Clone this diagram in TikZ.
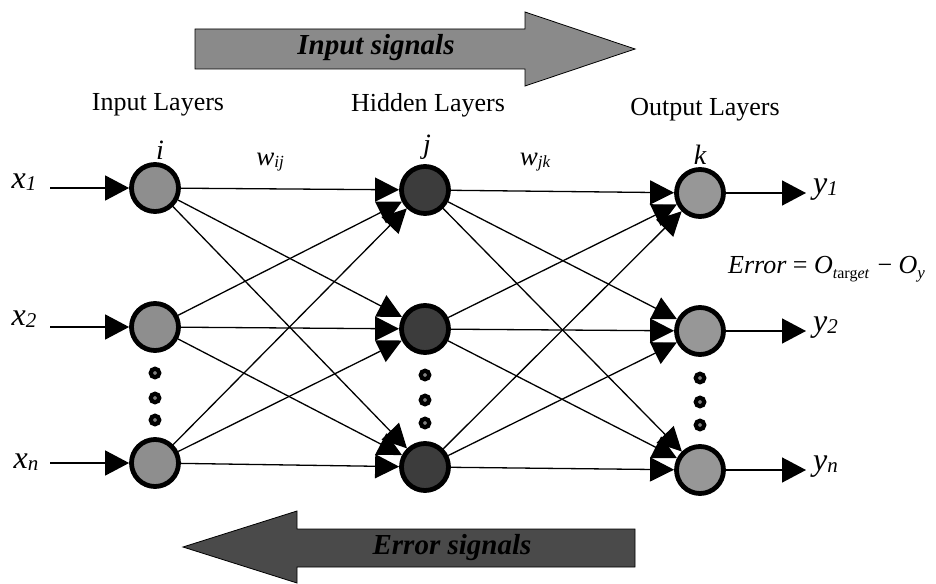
\documentclass[tikz,border=0pt]{standalone}
\usepackage{fontspec}
\setmainfont{Liberation Serif}
\usetikzlibrary{arrows.meta}
\definecolor{inputgray}{HTML}{8E8E8E}
\definecolor{hiddengray}{HTML}{3C3C3C}
\definecolor{outputgray}{HTML}{979797}
\definecolor{forwardgray}{HTML}{8A8A8A}
\definecolor{backgray}{HTML}{4A4A4A}
\newcommand{\fsz}[1]{\fontsize{#1}{#1}\selectfont}
\begin{document}
\begin{tikzpicture}[x=1pt,y=-1pt,
  neuron/.style={circle,draw=black,line width=4.8pt,minimum size=47pt,inner sep=0pt,outer sep=2.4pt},
  innode/.style={neuron,fill=inputgray},
  hidnode/.style={neuron,fill=hiddengray},
  outnode/.style={neuron,fill=outputgray},
  dotmark/.style={circle,draw=black,line width=4.2pt,fill=gray,minimum size=8.5pt,inner sep=0pt},
  link/.style={line width=1.3pt,-{Triangle[length=24pt,width=24pt]}},
  feed/.style={line width=1.5pt,-{Triangle[length=24pt,width=25pt]}},
  label/.style={font=\fsz{26},inner sep=0pt},
  idx/.style={font=\fsz{28}\itshape,inner sep=0pt},
  bigarrow/.style={draw=black,line width=0.8pt},
  arrowtext/.style={font=\fsz{29}\bfseries\itshape,inner sep=0pt}
]
\useasboundingbox (0,0) rectangle (936,583);

% signal flow arrows
\filldraw[bigarrow,fill=forwardgray] (195,29) -- (525,29) -- (525,12) -- (635,49) -- (525,86) -- (525,69) -- (195,69) -- cycle;
\node[arrowtext] (fwdtext) at (376,48) {Input signals};
\filldraw[bigarrow,fill=backgray] (635,529) -- (297,529) -- (297,511) -- (183,547) -- (297,583) -- (297,567) -- (635,567) -- cycle;
\node[arrowtext] (backtext) at (452,548) {Error signals};

% layer titles
\node[label] (tin) at (158,105) {Input Layers};
\node[label] (thid) at (428,105) {Hidden Layers};
\node[label] (tout) at (705,110) {Output Layers};

% neurons
\node[innode] (in1) at (155,188) {};
\node[innode] (in2) at (155,327) {};
\node[innode] (in3) at (155,463) {};
\node[hidnode] (hid1) at (425,190) {};
\node[hidnode] (hid2) at (425,329) {};
\node[hidnode] (hid3) at (425,467) {};
\node[outnode] (out1) at (700,193) {};
\node[outnode] (out2) at (700,331) {};
\node[outnode] (out3) at (700,470) {};

% vertical ellipses
\node[dotmark] (di1) at (155,373) {};
\node[dotmark] (di2) at (155,398) {};
\node[dotmark] (di3) at (155,420) {};
\node[dotmark] (dh1) at (425,375) {};
\node[dotmark] (dh2) at (425,400) {};
\node[dotmark] (dh3) at (425,423) {};
\node[dotmark] (do1) at (700,378) {};
\node[dotmark] (do2) at (700,402) {};
\node[dotmark] (do3) at (700,425) {};

% unit indices and weights
\node[idx] (li) at (160,150) {i};
\node[idx] (lj) at (427,147) {j};
\node[idx] (lk) at (700,155) {k};
\node[inner sep=0pt] (wij) at (270,162) {{\fsz{27}\itshape w}\raisebox{-0.4ex}{\fsz{17}\itshape ij}};
\node[inner sep=0pt] (wjk) at (535,162) {{\fsz{27}\itshape w}\raisebox{-0.4ex}{\fsz{17}\itshape jk}};

% connections
\foreach \a in {1,2,3}
  \foreach \b in {1,2,3} {
    \draw[link] (in\a) -- (hid\b);
    \draw[link] (hid\a) -- (out\b);
  }

% inputs
\coordinate (s1) at (50,188);
\coordinate (s2) at (50,327);
\coordinate (s3) at (50,463);
\draw[feed] (s1) -- (in1);
\draw[feed] (s2) -- (in2);
\draw[feed] (s3) -- (in3);
\node[inner sep=0pt] (x1) at (24,182) {{\fsz{32}\itshape x}\raisebox{-0.45ex}{\fsz{21}\itshape 1}};
\node[inner sep=0pt] (x2) at (24,319) {{\fsz{32}\itshape x}\raisebox{-0.45ex}{\fsz{21}\itshape 2}};
\node[inner sep=0pt] (xn) at (26,462) {{\fsz{32}\itshape x}\raisebox{-0.45ex}{\fsz{21}\itshape n}};

% outputs
\coordinate (e1) at (806,193);
\coordinate (e2) at (806,331);
\coordinate (e3) at (806,470);
\draw[feed] (out1) -- (e1);
\draw[feed] (out2) -- (e2);
\draw[feed] (out3) -- (e3);
\node[inner sep=0pt,anchor=west] (y1) at (813,190) {{\fsz{32}\itshape y}\raisebox{-0.45ex}{\fsz{21}\itshape 1}};
\node[inner sep=0pt,anchor=west] (y2) at (813,328) {{\fsz{32}\itshape y}\raisebox{-0.45ex}{\fsz{21}\itshape 2}};
\node[inner sep=0pt,anchor=west] (yn) at (813,467) {{\fsz{32}\itshape y}\raisebox{-0.45ex}{\fsz{21}\itshape n}};

% error definition
\node[inner sep=0pt,anchor=base west] (err) at (728,273) {\fsz{26}{\itshape Error} = {\itshape O}\raisebox{-0.5ex}{\fsz{16}{\itshape t}arg{\itshape et}}\kern2pt{} − {\itshape O}\raisebox{-0.5ex}{\fsz{17}\itshape y}};
\end{tikzpicture}
\end{document}
